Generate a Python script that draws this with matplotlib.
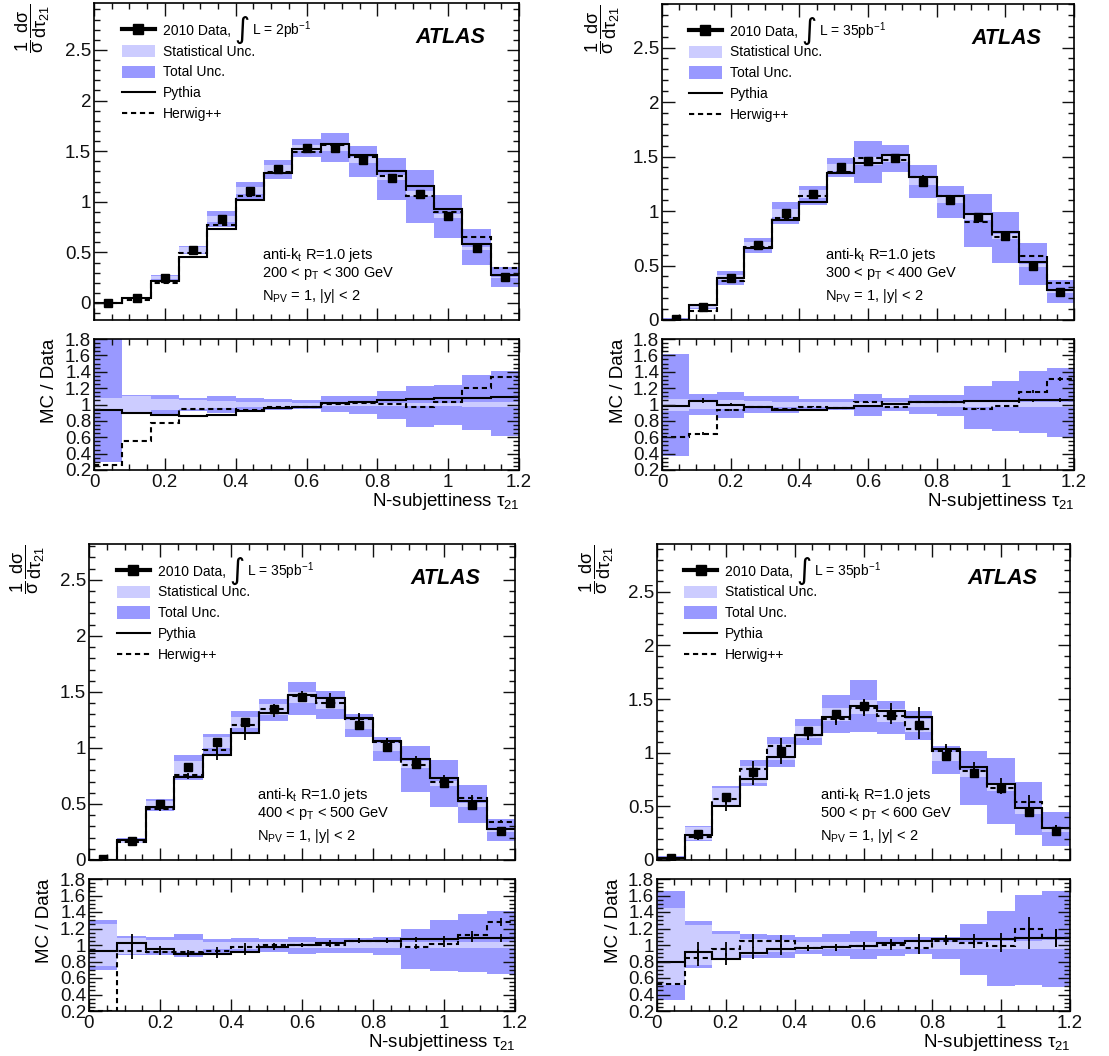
import numpy as np
import matplotlib
matplotlib.use("Agg")
import matplotlib.pyplot as plt
from matplotlib.lines import Line2D
from matplotlib.patches import Patch
from matplotlib.ticker import MultipleLocator, FuncFormatter

plt.rcParams['font.family'] = ['Liberation Sans', 'DejaVu Sans']
plt.rcParams['mathtext.fontset'] = 'custom'
plt.rcParams['mathtext.rm'] = 'Liberation Sans'
plt.rcParams['mathtext.it'] = 'Liberation Sans'
plt.rcParams['mathtext.bf'] = 'Liberation Sans:bold'

# ---------------- data ----------------
tau_edges = [0.0, 0.08, 0.16, 0.24, 0.32, 0.40, 0.48, 0.56, 0.64, 0.72,
             0.80, 0.88, 0.96, 1.04, 1.12, 1.20]
tau_centers = [0.04, 0.12, 0.20, 0.28, 0.36, 0.44, 0.52, 0.60, 0.68, 0.76,
               0.84, 0.92, 1.00, 1.08, 1.16]

# 200 < pT < 300 GeV
data_a = [0.003, 0.05, 0.25, 0.525, 0.83, 1.11, 1.32, 1.53, 1.53, 1.41, 1.235, 1.08, 0.86, 0.54, 0.254]
pythia_a = [0.0, 0.053, 0.22, 0.45, 0.73, 1.02, 1.28, 1.525, 1.57, 1.465, 1.30, 1.16, 0.93, 0.58, 0.274]
herwig_a = [0.0, 0.03, 0.20, 0.49, 0.775, 1.06, 1.29, 1.495, 1.56, 1.44, 1.25, 1.06, 0.895, 0.65, 0.35]
totlo_a = [0.30, 0.90, 0.88, 0.92, 0.90, 0.92, 0.93, 0.94, 0.91, 0.88, 0.82, 0.73, 0.75, 0.69, 0.62]
tothi_a = [1.90, 1.11, 1.12, 1.08, 1.10, 1.08, 1.07, 1.06, 1.10, 1.10, 1.16, 1.22, 1.24, 1.36, 1.41]
statlo_a = [0.92, 0.91, 0.93, 0.95, 0.96, 0.97, 0.97, 0.98, 0.98, 0.98, 0.98, 0.98, 0.98, 0.97, 0.97]
stathi_a = [1.08, 1.10, 1.07, 1.05, 1.04, 1.03, 1.03, 1.02, 1.02, 1.02, 1.02, 1.02, 1.02, 1.03, 1.03]
rpy_a = [0.927, 0.894, 0.874, 0.854, 0.866, 0.915, 0.955, 0.975, 1.016, 1.035, 1.057, 1.07, 1.077, 1.08, 1.09]
rhw_a = [0.265, 0.56, 0.78, 0.943, 0.943, 0.927, 0.967, 0.975, 1.008, 1.016, 1.008, 0.967, 1.035, 1.2, 1.33]
mcerr_a = [0.0, 0.0, 0.0, 0.0, 0.0, 0.0, 0.0, 0.0, 0.0, 0.0, 0.0, 0.0, 0.0, 0.0, 0.0]

# 300 < pT < 400 GeV
data_b = [0.01, 0.12, 0.39, 0.685, 0.98, 1.157, 1.40, 1.456, 1.487, 1.27, 1.10, 0.945, 0.77, 0.50, 0.254]
pythia_b = [0.0, 0.135, 0.39, 0.66, 0.92, 1.085, 1.35, 1.44, 1.51, 1.31, 1.14, 0.975, 0.805, 0.53, 0.272]
herwig_b = [0.0, 0.083, 0.36, 0.673, 0.936, 1.135, 1.36, 1.484, 1.466, 1.316, 1.138, 0.90, 0.76, 0.585, 0.34]
totlo_b = [0.37, 0.87, 0.835, 0.895, 0.895, 0.915, 0.935, 0.865, 0.915, 0.884, 0.855, 0.705, 0.68, 0.65, 0.60]
tothi_b = [1.62, 1.13, 1.15, 1.105, 1.105, 1.065, 1.065, 1.13, 1.077, 1.118, 1.118, 1.22, 1.29, 1.41, 1.45]
statlo_b = [0.915, 0.94, 0.95, 0.96, 0.965, 0.97, 0.975, 0.975, 0.975, 0.975, 0.975, 0.97, 0.97, 0.97, 0.97]
stathi_b = [1.07, 1.06, 1.05, 1.04, 1.035, 1.03, 1.025, 1.025, 1.025, 1.025, 1.025, 1.03, 1.03, 1.03, 1.03]
rpy_b = [0.985, 1.045, 1.0, 0.967, 0.935, 0.935, 0.96, 0.985, 1.01, 1.03, 1.03, 1.037, 1.045, 1.05, 1.057]
rhw_b = [0.60, 0.645, 0.935, 0.967, 0.947, 0.975, 0.96, 1.025, 0.975, 1.033, 1.033, 0.95, 0.985, 1.155, 1.31]
mcerr_b = [0.0, 0.03, 0.015, 0.01, 0.01, 0.01, 0.01, 0.01, 0.01, 0.01, 0.01, 0.01, 0.015, 0.015, 0.02]

# 400 < pT < 500 GeV
data_c = [0.01, 0.173, 0.50, 0.827, 1.054, 1.23, 1.345, 1.452, 1.40, 1.208, 1.006, 0.854, 0.685, 0.488, 0.259]
pythia_c = [0.0, 0.175, 0.476, 0.744, 0.935, 1.13, 1.315, 1.476, 1.45, 1.27, 1.06, 0.905, 0.735, 0.53, 0.274]
herwig_c = [0.0, 0.16, 0.452, 0.756, 0.98, 1.208, 1.348, 1.464, 1.40, 1.256, 1.054, 0.848, 0.693, 0.554, 0.342]
totlo_c = [0.695, 0.88, 0.88, 0.858, 0.90, 0.92, 0.92, 0.89, 0.90, 0.906, 0.88, 0.71, 0.687, 0.675, 0.643]
tothi_c = [1.305, 1.11, 1.093, 1.134, 1.07, 1.08, 1.07, 1.093, 1.08, 1.08, 1.093, 1.19, 1.305, 1.38, 1.414]
statlo_c = [0.75, 0.887, 0.93, 0.92, 0.95, 0.955, 0.96, 0.965, 0.965, 0.965, 0.965, 0.965, 0.965, 0.965, 0.965]
stathi_c = [1.255, 1.09, 1.06, 1.065, 1.04, 1.04, 1.035, 1.035, 1.035, 1.035, 1.035, 1.035, 1.035, 1.04, 1.04]
rpy_c = [0.927, 1.03, 0.947, 0.886, 0.886, 0.92, 0.97, 1.0, 1.03, 1.05, 1.05, 1.07, 1.07, 1.085, 1.085]
rhw_c = [0.2, 0.927, 0.91, 0.91, 0.927, 0.98, 1.0, 1.0, 1.0, 1.05, 1.05, 0.98, 1.01, 1.12, 1.28]
mcerr_c = [0.0, 0.10, 0.04, 0.03, 0.05, 0.05, 0.03, 0.02, 0.025, 0.03, 0.03, 0.03, 0.035, 0.04, 0.04]

# 500 < pT < 600 GeV
data_d = [0.022, 0.246, 0.59, 0.82, 1.02, 1.205, 1.36, 1.435, 1.355, 1.26, 0.97, 0.81, 0.675, 0.45, 0.27]
pythia_d = [0.015, 0.23, 0.50, 0.755, 0.96, 1.168, 1.333, 1.433, 1.39, 1.33, 1.034, 0.863, 0.71, 0.486, 0.296]
herwig_d = [0.012, 0.21, 0.57, 0.85, 1.06, 1.168, 1.318, 1.417, 1.34, 1.224, 1.012, 0.83, 0.667, 0.54, 0.30]
totlo_d = [0.333, 0.717, 0.887, 0.846, 0.846, 0.89, 0.867, 0.83, 0.87, 0.89, 0.83, 0.636, 0.503, 0.515, 0.495]
tothi_d = [1.655, 1.29, 1.17, 1.133, 1.12, 1.093, 1.133, 1.17, 1.093, 1.1, 1.093, 1.254, 1.41, 1.606, 1.655]
statlo_d = [0.52, 0.76, 0.84, 0.88, 0.91, 0.94, 0.95, 0.95, 0.95, 0.95, 0.95, 0.95, 0.95, 0.95, 0.95]
stathi_d = [1.45, 1.24, 1.13, 1.07, 1.06, 1.04, 1.04, 1.04, 1.04, 1.04, 1.04, 1.04, 1.05, 1.05, 1.06]
rpy_d = [0.79, 0.92, 0.83, 0.9, 0.95, 0.96, 0.97, 0.99, 1.02, 1.05, 1.07, 1.07, 1.07, 1.08, 1.08]
rhw_d = [0.527, 0.846, 0.947, 1.05, 1.05, 0.96, 0.97, 0.99, 1.0, 0.96, 1.05, 1.02, 0.99, 1.194, 1.09]
mcerr_d = [0.0, 0.12, 0.09, 0.08, 0.07, 0.04, 0.045, 0.05, 0.055, 0.075, 0.05, 0.06, 0.075, 0.12, 0.10]

pt_labels = ["200 < p$_{\\rm T}$ < 300 GeV", "300 < p$_{\\rm T}$ < 400 GeV",
             "400 < p$_{\\rm T}$ < 500 GeV", "500 < p$_{\\rm T}$ < 600 GeV"]
lumi_labels = ["2pb", "35pb", "35pb", "35pb"]
main_ylims = [(-0.168, 2.964), (0.0, 2.9), (0.0, 2.82), (0.0, 2.945)]

# ---------------- style ----------------
W, H = 1109, 1056
TOT = '#9999ff'
STAT = '#ccccff'
LW = 1.5
DASH = (0, (2.5, 1.8))

main_boxes = [(94, 519, 3, 320), (662, 1074, 4, 320), (89, 515, 544, 860), (657, 1070, 544, 860)]
ratio_boxes = [(94, 519, 339, 470), (662, 1074, 339, 470), (89, 515, 879, 1011), (657, 1070, 879, 1011)]


def rect(b):
    l, r, t, bo = b
    return [l / W, 1 - bo / H, (r - l) / W, (bo - t) / H]


fmt = FuncFormatter(lambda v, p: ('%g' % round(v, 3)))


def style_axis(ax):
    ax.tick_params(which='both', direction='in', top=True, right=True, colors='#111111')
    ax.tick_params(which='major', length=9, width=1.0, labelsize=13.5, pad=2)
    ax.tick_params(which='minor', length=4.5, width=1.0)
    for s in ax.spines.values():
        s.set_linewidth(1.2)
    ax.xaxis.set_major_locator(MultipleLocator(0.2))
    ax.xaxis.set_minor_locator(MultipleLocator(0.05))
    ax.set_xlim(0, 1.2)


fig = plt.figure(figsize=(W / 100, H / 100), dpi=100)

sets = [
    (data_a, pythia_a, herwig_a, totlo_a, tothi_a, statlo_a, stathi_a, rpy_a, rhw_a, mcerr_a),
    (data_b, pythia_b, herwig_b, totlo_b, tothi_b, statlo_b, stathi_b, rpy_b, rhw_b, mcerr_b),
    (data_c, pythia_c, herwig_c, totlo_c, tothi_c, statlo_c, stathi_c, rpy_c, rhw_c, mcerr_c),
    (data_d, pythia_d, herwig_d, totlo_d, tothi_d, statlo_d, stathi_d, rpy_d, rhw_d, mcerr_d),
]

edges = np.array(tau_edges)
cent = np.array(tau_centers)
legends = []

for i, (dat, py, hw, tlo, thi, slo, shi, rpy, rhw, merr) in enumerate(sets):
    dat = np.array(dat); py = np.array(py); hw = np.array(hw)
    tlo = np.array(tlo); thi = np.array(thi); slo = np.array(slo); shi = np.array(shi)
    rpy = np.array(rpy); rhw = np.array(rhw); merr = np.array(merr)

    # ---- main panel ----
    ax = fig.add_axes(rect(main_boxes[i]))
    ax.stairs(dat * thi, edges, baseline=dat * tlo, fill=True, color=TOT, lw=0)
    ax.stairs(dat * shi, edges, baseline=dat * slo, fill=True, color=STAT, lw=0)
    ax.stairs(py, edges, baseline=None, color='k', lw=LW)
    ax.stairs(hw, edges, baseline=None, color='k', lw=LW, ls=DASH)
    m = merr > 0
    if m.any():
        ax.errorbar(cent[m], py[m], yerr=py[m] * merr[m], fmt='none', ecolor='k', elinewidth=1.3)
        ax.errorbar(cent[m], hw[m], yerr=hw[m] * merr[m], fmt='none', ecolor='k', elinewidth=1.3)
    ax.plot(cent, dat, 's', color='k', ms=6.3, zorder=5)
    style_axis(ax)
    ax.set_ylim(*main_ylims[i])
    ax.yaxis.set_major_locator(MultipleLocator(0.5))
    ax.yaxis.set_minor_locator(MultipleLocator(0.1))
    ax.yaxis.set_major_formatter(fmt)
    ax.tick_params(axis='x', labelbottom=False)
    ax.text(-0.145, 1.0, r'$\dfrac{1}{\sigma}\,\dfrac{d\sigma}{d\tau_{21}}$', rotation=90,
            ha='center', va='top', fontsize=13, transform=ax.transAxes)
    ax.text(0.92, 0.89, 'ATLAS', fontsize=15.5, fontweight='bold', fontstyle='italic',
            ha='right', va='center', transform=ax.transAxes)
    ax.text(0.395, 0.205, r'anti-k$_{\rm t}$ R=1.0 jets', fontsize=10.5, va='center', transform=ax.transAxes)
    ax.text(0.395, 0.146, pt_labels[i], fontsize=10.5, va='center', transform=ax.transAxes)
    ax.text(0.395, 0.076, r'N$_{\rm PV}$ = 1, |y| < 2', fontsize=10.5, va='center', transform=ax.transAxes)

    handles = [Line2D([], [], color='k', lw=3, marker='s', ms=7),
               Patch(facecolor=STAT, edgecolor='none'),
               Patch(facecolor=TOT, edgecolor='none'),
               Line2D([], [], color='k', lw=LW),
               Line2D([], [], color='k', lw=LW, ls=DASH)]
    labels = ['2010 Data,', 'Statistical Unc.', 'Total Unc.', 'Pythia', 'Herwig++']
    leg = ax.legend(handles, labels, loc='upper left', bbox_to_anchor=(0.065, 0.935),
                    frameon=False, fontsize=10, handlelength=2.4, handleheight=1.0,
                    handletextpad=0.55, labelspacing=0.5, borderpad=0, borderaxespad=0)
    legends.append((ax, leg, lumi_labels[i]))

    # ---- ratio panel ----
    ar = fig.add_axes(rect(ratio_boxes[i]))
    ar.stairs(thi, edges, baseline=tlo, fill=True, color=TOT, lw=0)
    ar.stairs(shi, edges, baseline=slo, fill=True, color=STAT, lw=0)
    ar.stairs(rpy, edges, baseline=None, color='k', lw=LW)
    ar.stairs(rhw, edges, baseline=None, color='k', lw=LW, ls=DASH)
    if m.any():
        ar.errorbar(cent[m], rpy[m], yerr=rpy[m] * merr[m], fmt='none', ecolor='k', elinewidth=1.3)
        ar.errorbar(cent[m], rhw[m], yerr=rhw[m] * merr[m], fmt='none', ecolor='k', elinewidth=1.3)
    style_axis(ar)
    ar.set_ylim(0.2, 1.8)
    ar.yaxis.set_major_locator(MultipleLocator(0.2))
    ar.yaxis.set_minor_locator(MultipleLocator(0.05))
    ar.yaxis.set_major_formatter(fmt)
    ar.xaxis.set_major_formatter(fmt)
    ar.tick_params(axis='x', pad=3)
    ar.text(-0.105, 1.0, 'MC / Data', rotation=90, ha='center', va='top',
            fontsize=13.5, transform=ar.transAxes)
    ar.text(1.0, -0.16, r'N-subjettiness $\tau_{21}$', ha='right', va='top',
            fontsize=13.5, transform=ar.transAxes)

# integral sign and luminosity placed right after the first legend entry
fig.canvas.draw()
renderer = fig.canvas.get_renderer()
for ax, leg, lumi in legends:
    bb = leg.get_texts()[0].get_window_extent(renderer)
    inv = ax.transAxes.inverted()
    x1, yc = inv.transform((bb.x1 + 4, (bb.y0 + bb.y1) / 2 + 1))
    t_int = ax.text(x1, yc, '\u222b', family='DejaVu Sans', fontsize=21,
                    ha='left', va='center', transform=ax.transAxes)
    bi = t_int.get_window_extent(renderer)
    x2, _ = inv.transform((bi.x1 + 2, 0))
    ax.text(x2, yc - 0.003, 'L = %s$^{-1}$' % lumi, fontsize=10, ha='left', va='center',
            transform=ax.transAxes)

fig.savefig('out.png', dpi=100)
